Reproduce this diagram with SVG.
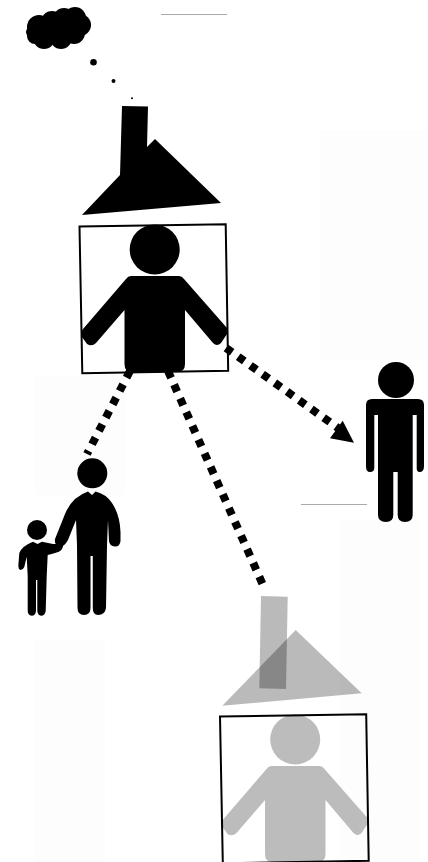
<svg xmlns="http://www.w3.org/2000/svg" width="428" height="862" viewBox="0 0 428 862">
<style>
.bg{fill:#fdfdfd}
.box{fill:none;stroke:#000;stroke-width:2}
.ink{fill:#000}
.dash{fill:none;stroke:#000;stroke-width:8;stroke-dasharray:7.500 7.500}
.rule{stroke:#aaa;stroke-width:1;fill:none}
.ghost{fill:#000;fill-opacity:.27}
.pale{fill:#bcbcbc}
</style>
<defs>
<path id="torso" d="M131 276H179Q182 276 184 279L227 328Q229 331 227 334L221 343Q217 347 213 343L185 310V364Q185 372 177 372H132Q124.500 372 124.500 364V310L96 343Q92 347 87 344L82 337Q80 333 83 329L126 279Q128 276 131 276Z"/>
</defs>
<g id="background">
<rect class="bg" x="320" y="130" width="108" height="230"/>
<rect class="bg" x="35" y="375" width="90" height="120"/>
<rect class="bg" x="340" y="520" width="80" height="340"/>
<rect class="bg" x="35" y="640" width="70" height="222"/>
</g>
<g id="connectors">
<path class="dash" d="M130 371L87 454"/>
<path class="dash" d="M168 371L263 585"/>
<path class="dash" d="M226 348L338 428"/>
<polygon class="ink" points="354,442.700 342.700,420.700 330,438.300"/>
</g>
<g id="rule-top"><line class="rule" x1="161" y1="14.500" x2="227" y2="14.500"/></g>
<g id="rule-right"><line class="rule" x1="301" y1="504.500" x2="367" y2="504.500"/></g>
<g id="cloud" class="ink">
<circle cx="39" cy="27" r="12"/><circle cx="52" cy="22" r="11"/><circle cx="64" cy="19" r="11"/><circle cx="75" cy="18" r="11"/><circle cx="80" cy="25" r="11"/><circle cx="74" cy="33" r="11"/><circle cx="61" cy="38" r="11"/><circle cx="44" cy="38" r="11"/><circle cx="35" cy="36" r="8"/><circle cx="31" cy="32" r="5"/><circle cx="60" cy="28" r="15"/>
</g>
<g id="thought-dots" class="ink">
<circle cx="93.500" cy="62.300" r="3.300"/><circle cx="113.500" cy="81" r="2"/><circle cx="132" cy="98.300" r="1"/>
</g>
<g id="house-top">
<polygon class="ink" points="122,106 148,106.500 147,147 155,139 221,203 82,215 120,175"/>
</g>
<g id="person-top">
<polygon class="box" points="79.500,226.500 225.700,224.300 228.200,370.800 82.300,373.300"/>
<circle class="ink" cx="154.700" cy="249.500" r="25"/>
<use href="#torso" class="ink"/>
</g>
<g id="person-right">
<circle class="ink" cx="396" cy="380" r="18"/>
<path class="ink" d="M372 399H418Q424 399 424 405V466Q424 472 419.500 472Q416.700 472 416.700 468V415H412.700V515Q412.700 522 405 522Q397.700 522 397.700 515V472H393.300V515Q393.300 522 386 522Q378 522 378 515V415H374.300V468Q374.300 472 370 472Q366 472 366 466V405Q366 399 372 399Z"/>
</g>
<g id="adult-child" class="ink">
<circle cx="92.300" cy="473.300" r="15"/>
<path d="M88 491.500L92 495L95.500 491.500Q106 494 112 503Q120 515 120.500 532V541Q120 546.500 115 546.500Q109.500 546 109 541L108 520L107 545L106 608Q105 615 98 615Q92.800 615 92.800 608V556H90.500V608Q90.500 615 84 615Q77.500 615 77.500 608L77 545L76 520L68 540Q64 547 60 547Q54 545 55 539L65 514Q72 497 88 491.500Z"/>
<circle cx="37" cy="530" r="10"/>
<path d="M33 541.700L37.500 544L42 541.700L53 544L63 544Q64 551 55 553Q50 554.500 47.700 555L46.700 576L45.700 611Q45 615.700 41 615.700Q37.700 615 37.300 611V580H36V611Q35.500 615.700 31.700 615.700Q27.700 615 27.700 611V576L26.700 556.700L24.300 567Q23 570 20.500 570Q18.300 569 18.300 566L19.300 553Q22 546 33 541.700Z"/>
</g>
<g id="house-bottom">
<polygon class="ghost" points="261,596 287.700,596.700 286,689 259.300,688.300"/>
<polygon class="ghost" points="295.700,630 361.700,693.300 222.300,705.700"/>
</g>
<g id="person-bottom" transform="translate(140.500 490)">
<circle class="pale" cx="154.700" cy="249.500" r="25"/>
<use href="#torso" class="pale"/>
<polygon class="box" points="79.500,226.500 225.700,224.300 228.200,370.800 82.300,373.300"/>
</g>
</svg>
